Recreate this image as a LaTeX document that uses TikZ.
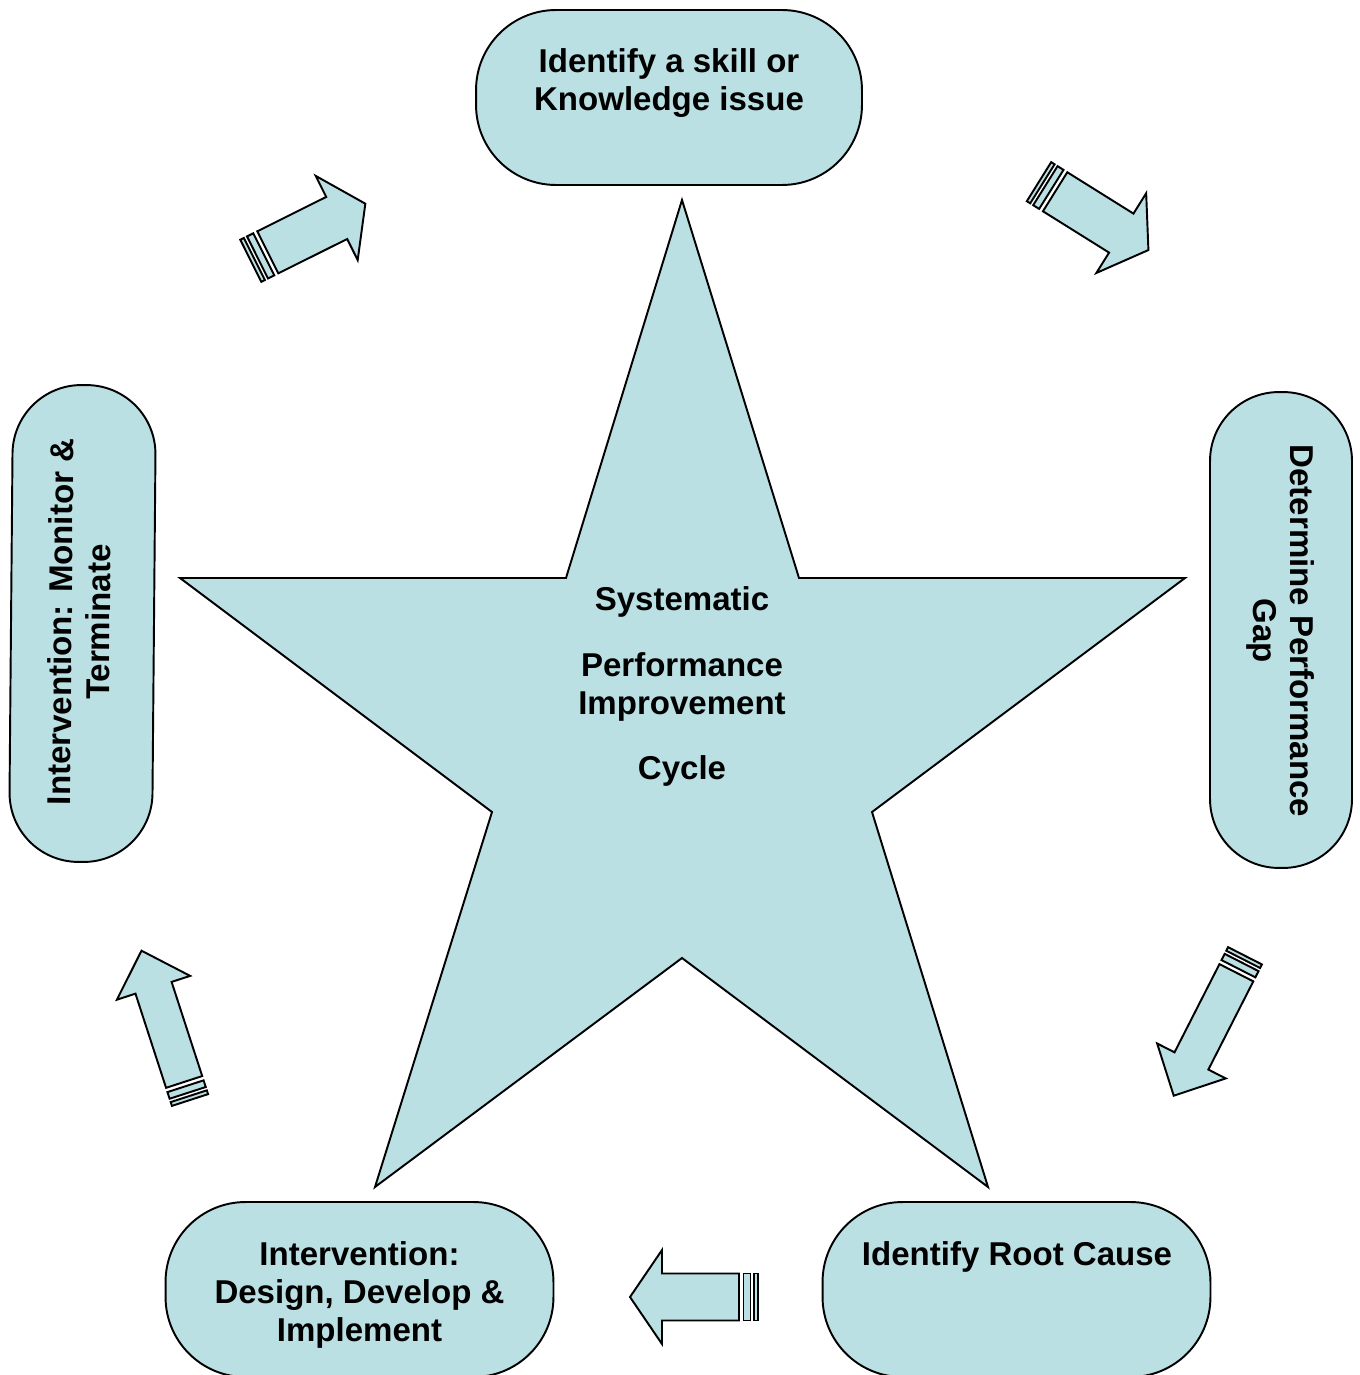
\documentclass[tikz,border=0pt]{standalone}
\usepackage{fontspec}
\setmainfont{Liberation Sans}
\newcommand\labelfont{\fontsize{18.8}{21.6}\selectfont\bfseries}
\definecolor{boxblue}{RGB}{187,224,227}

% striped block arrow: tail point, direction, length, half shaft, half head, head length
\newcommand\stripedarrow[6]{%
  \begin{scope}[shift={#1},rotate=#2]
    \draw[shapefill] (0,-#4) rectangle (4,#4);
    \draw[shapefill] (7.5,-#4) rectangle (14.5,#4);
    \draw[shapefill] (19,-#4) -- ({#3-#6},-#4) -- ({#3-#6},-#5) -- (#3,0)
      -- ({#3-#6},#5) -- ({#3-#6},#4) -- (19,#4) -- cycle;
  \end{scope}}

\tikzset{
  shapefill/.style={fill=boxblue, draw=black, line width=1.1pt, line join=miter},
  box/.style={shapefill, rounded corners=1.6cm, inner sep=0pt},
  lbl/.style={font=\labelfont, align=center, inner sep=0pt, text=black},
}

\begin{document}
\begin{tikzpicture}[x=0.02cm, y=-0.02cm]
  \useasboundingbox (0,0) rectangle (1359,1375);
  \clip (0,0) rectangle (1359,1375);

  % central star
  \draw[shapefill] (682,200) -- (799,578) -- (1185,578) -- (872,812) -- (988,1187)
    -- (682,958) -- (375,1187) -- (492,812) -- (180,578) -- (566,578) -- cycle;
  \node[lbl, anchor=base] (sys)  at (682,610) {Systematic};
  \node[lbl, anchor=base] (perf) at (682,676) {Performance};
  \node[lbl, anchor=base] (impr) at (682,714) {Improvement};
  \node[lbl, anchor=base] (cyc)  at (682,779) {Cycle};

  % process steps
  \node[box, minimum width=7.72cm, minimum height=3.5cm] (issue) at (669,97.5) {};
  \node[lbl] (issuetxt) at (669,83.5) {Identify a skill or\\Knowledge issue};

  \node[box, minimum width=2.84cm, minimum height=9.52cm, rounded corners=1.38cm] (gap) at (1281,630) {};
  \node[lbl, rotate=-90] (gaptxt) at (1280.5,631) {Determine Performance\\Gap};

  \node[box, minimum width=7.76cm, minimum height=3.5cm] (root) at (1016.5,1289.5) {};
  \node[lbl] (roottxt) at (1017,1256.5) {Identify Root Cause};

  \node[box, minimum width=7.76cm, minimum height=3.5cm] (design) at (359.5,1289.5) {};
  \node[lbl] (designtxt) at (359.5,1294.5) {Intervention:\\Design, Develop \&\\Implement};

  \node[box, minimum width=2.86cm, minimum height=9.54cm, rounded corners=1.38cm, rotate=-0.5] (monitor) at (82.5,623.5) {};
  \node[lbl, rotate=89.5] (monitortxt) at (79.2,622) {Intervention: Monitor \&\\Terminate};

  % cycle arrows
  \stripedarrow{(1039,181.7)}{-32}{129}{23}{47}{32}
  \stripedarrow{(1245,955.8)}{-117}{157}{19}{38.5}{39}
  \stripedarrow{(758,1297)}{180}{128}{23.5}{47}{32}
  \stripedarrow{(190,1100)}{108}{157}{19}{38.5}{39}
  \stripedarrow{(250.8,260.8)}{26.5}{128}{23.5}{47}{32}
\end{tikzpicture}
\end{document}
